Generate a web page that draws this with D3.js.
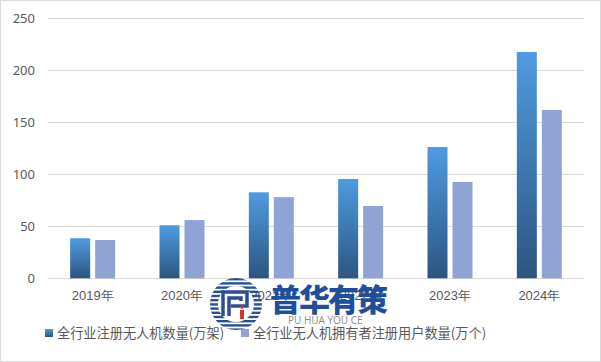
<!DOCTYPE html>
<html><head><meta charset="utf-8">
<script src="https://cdn.jsdelivr.net/npm/d3@7/dist/d3.min.js"></script>
<style>
html,body{margin:0;padding:0;background:#fff;}
svg{display:block;font-family:"Noto Sans CJK SC","Noto Sans",sans-serif;}
</style></head>
<body><svg id="c" width="601" height="362"></svg>
<script>
const categories = ["2019年","2020年","2021年","2022年","2023年","2024年"];
const seriesNames = ["全行业注册无人机数量(万架)","全行业无人机拥有者注册用户数量(万个)"];
const drones = [38.5, 51, 82.7, 95.5, 126.2, 217.6];
const owners = [36.8, 56, 78, 69.5, 92.6, 161.8];
const yTicks = [0, 50, 100, 150, 200, 250];

const svg = d3.select("#c");
const W = 601, H = 362;
const m = {left: 48, right: 17, top: 18.3, bottom: 83.7};
const x = d3.scaleBand().domain(categories).range([m.left, W - m.right]);
const y = d3.scaleLinear().domain([0, 250]).range([H - m.bottom, m.top]);

const defs = svg.append("defs");
const g1 = defs.append("linearGradient").attr("id","gb").attr("x1",0).attr("y1",0).attr("x2",0).attr("y2",1);
g1.append("stop").attr("offset","0%").attr("stop-color","#4f9be0");
g1.append("stop").attr("offset","100%").attr("stop-color","#2c5580");

// border
svg.append("rect").attr("x",0.5).attr("y",0.5).attr("width",W-1).attr("height",H-1)
  .attr("fill","#fff").attr("stroke","#d9d9d9");

// gridlines
svg.append("g").selectAll("line").data(yTicks).join("line")
  .attr("x1", m.left).attr("x2", W - m.right)
  .attr("y1", d => Math.round(y(d)) + 0.5).attr("y2", d => Math.round(y(d)) + 0.5)
  .attr("stroke", "#d9d9d9");

// y labels
const yAxis = d3.axisLeft(y).tickValues(yTicks).tickSize(0).tickPadding(13);
const ya = svg.append("g").attr("transform", `translate(${m.left},0)`).call(yAxis);
ya.select(".domain").remove();
ya.selectAll("text").attr("font-size", 13).attr("fill", "#595959")
  .attr("font-family", "\"Noto Sans\",sans-serif");

// x labels
const xAxis = d3.axisBottom(x).tickSize(0).tickPadding(12);
const xa = svg.append("g").attr("transform", `translate(0,${y(0)})`).call(xAxis);
xa.select(".domain").remove();
xa.selectAll("text").attr("font-size", 13).attr("fill", "#595959");

// bars
const bw = 20, gap = 5;
const bars = svg.append("g");
bars.selectAll(".b1").data(categories).join("rect")
  .attr("x", d => x(d) + x.bandwidth()/2 - gap/2 - bw)
  .attr("y", (d,i) => y(drones[i]))
  .attr("width", bw)
  .attr("height", (d,i) => y(0) - y(drones[i]))
  .attr("fill", "url(#gb)");
bars.selectAll(".b2").data(categories).join("rect")
  .attr("x", d => x(d) + x.bandwidth()/2 + gap/2)
  .attr("y", (d,i) => y(owners[i]))
  .attr("width", bw)
  .attr("height", (d,i) => y(0) - y(owners[i]))
  .attr("fill", "#8fa3d4");

// legend
const lg = svg.append("g");
const legendItems = [{x:45, fill:"url(#gb)"}, {x:241, fill:"#8fa3d4"}];
legendItems.forEach((it, i) => {
  lg.append("rect").attr("x", it.x).attr("y", 329).attr("width", 8).attr("height", 8).attr("fill", it.fill);
  lg.append("text").attr("x", it.x + 12).attr("y", 333.5).attr("dy", "0.35em")
    .attr("font-size", 13.2).attr("fill", "#595959").text(seriesNames[i]);
});

// watermark
const wm = svg.append("g");
const cx = 236, cy = 304, R = 26;
defs.append("clipPath").attr("id","ring").append("circle").attr("cx",cx).attr("cy",cy).attr("r",R);
const stripes = wm.append("g").attr("clip-path","url(#ring)");
for (let k = -R; k <= R; k += 4.2) {
  stripes.append("rect").attr("x", cx - R).attr("y", cy + k).attr("width", 2*R).attr("height", 2.4).attr("fill", "#2a4f96");
}
wm.append("circle").attr("cx",cx).attr("cy",cy).attr("r",18).attr("fill","#fff");
wm.append("path").attr("d", `M${cx-13},${cy+12} V${cy-12} H${cx+11} V${cy+2} H${cx-5} M${cx-7},${cy+12} V${cy-6} H${cx+5} V${cy-3}`)
  .attr("fill","none").attr("stroke","#2a4f96").attr("stroke-width",3.5);
wm.append("rect").attr("x",cx+4).attr("y",cy+6).attr("width",4).attr("height",9).attr("fill","#d6332b");
wm.append("circle").attr("cx",cx+6).attr("cy",cy+3).attr("r",1.8).attr("fill","#d6332b");
wm.append("text").attr("x", 270).attr("y", 311).attr("font-size", 31).attr("font-weight", 900)
  .attr("fill", "#1f4e9a").attr("textLength", 118).text("普华有策");
wm.append("text").attr("x", 288).attr("y", 324).attr("font-size", 10)
  .attr("fill", "#8a8a8a").attr("font-family","\"Open Sans\",sans-serif").text("PU HUA YOU CE");
</script></body></html>
